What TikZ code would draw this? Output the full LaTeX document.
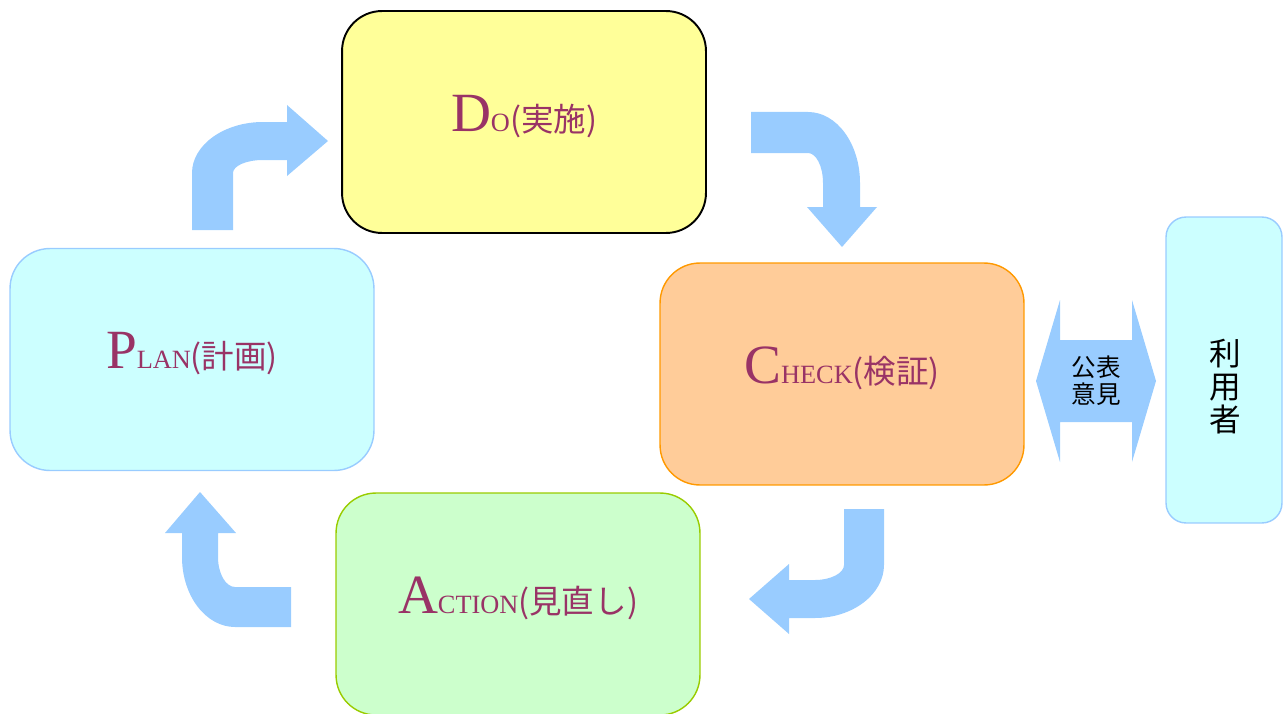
\documentclass[tikz,border=0pt]{standalone}
\usepackage{fontspec}
\setmainfont{Liberation Serif}
\newfontfamily\jpfont{Noto Sans CJK JP}
\definecolor{arrowblue}{HTML}{99CCFF}
\definecolor{doyellow}{HTML}{FFFF99}
\definecolor{planfill}{HTML}{CCFFFF}
\definecolor{planline}{HTML}{99CCFF}
\definecolor{checkfill}{HTML}{FFCC99}
\definecolor{checkline}{HTML}{FF9900}
\definecolor{actfill}{HTML}{CCFFCC}
\definecolor{actline}{HTML}{99CC00}
\definecolor{labelcol}{HTML}{993366}
\newcommand{\stagelabel}[3]{{\fontsize{31.5}{31.5}\selectfont #1}{\fontsize{15}{15}\selectfont #2}{\jpfont\fontsize{18.5}{18.5}\selectfont(#3)}}

\begin{document}
\begin{tikzpicture}[x=0.02cm,y=-0.02cm,
    stage/.style={rectangle,rounded corners=0.8cm,minimum width=7.28cm,minimum height=4.44cm,line width=0.8pt,text=labelcol,text depth=0.35cm},
    userbox/.style={rectangle,rounded corners=0.4cm,minimum width=2.32cm,minimum height=6.12cm,fill=planfill,draw=planline,line width=0.8pt},
    bent/.style={fill=arrowblue,draw=none}]
            \useasboundingbox (0,0) rectangle (1284,713);
            % the four stages
            \node[stage,fill=doyellow,draw=black,line width=1.1pt] (do) at (524,122) {\stagelabel{D}{O}{実施}};
            \node[stage,fill=planfill,draw=planline] (plan) at (192,359.5) {\stagelabel{P}{LAN}{計画}};
            \node[stage,fill=checkfill,draw=checkline] (check) at (842,374) {\stagelabel{C}{HECK}{検証}};
            \node[stage,fill=actfill,draw=actline] (action) at (518,604) {\stagelabel{A}{CTION}{見直し}};
            \node[userbox] (users) at (1224,370) {};
            \node[font=\jpfont\fontsize{18}{18.8}\selectfont,align=center] (userstext) at (1225,387) {利\\用\\者};
            % bent arrows
            \fill[bent] (192,230) -- (192,173) .. controls (192,145) and (224,122) .. (263,122) -- (287,122) -- (287,105) -- (328,141)
                  -- (287,176) -- (287,160) -- (263,160) .. controls (246,160) and (233,166) .. (233,173) -- (233,230) -- cycle;
            \fill[bent] (751,112) -- (808,112) .. controls (837,112) and (860,144) .. (860,183) -- (860,207) -- (877,207) -- (842,247)
                  -- (807,207) -- (823,207) -- (823,183) .. controls (823,166) and (816,153) .. (808,153) -- (751,153) -- cycle;
            \fill[bent] (884,509) -- (884,565) .. controls (884,594) and (853,618) .. (815,618) -- (789,618) -- (789,634) -- (749,599)
                  -- (789,564) -- (789,580) -- (815,580) .. controls (831,580) and (844,573) .. (844,565) -- (844,509) -- cycle;
            \fill[bent] (291,627) -- (235,627) .. controls (206,627) and (182,596) .. (182,557) -- (182,533) -- (165,533) -- (200,492)
                  -- (236,533) -- (218,533) -- (218,557) .. controls (218,574) and (226,587) .. (235,587) -- (291,587) -- cycle;
            % publication and opinions
            \fill[bent] (1036,381) -- (1060,300) -- (1060,340) -- (1132,340) -- (1132,300) -- (1156,381)
                  -- (1132,462) -- (1132,422) -- (1060,422) -- (1060,462) -- cycle;
            \node[font=\jpfont\fontsize{14}{15.5}\selectfont,align=center] (opinion) at (1096,381) {公表\\意見};
        \end{tikzpicture}
\end{document}
